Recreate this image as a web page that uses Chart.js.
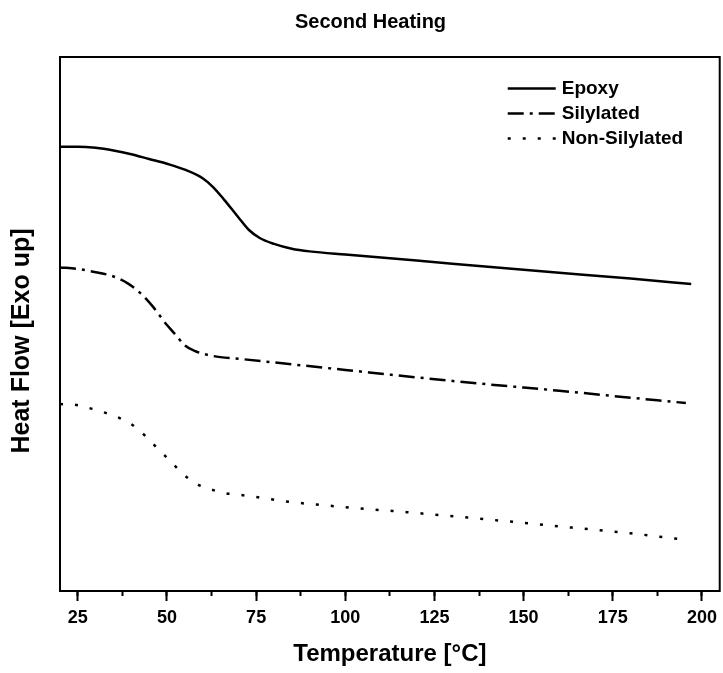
<!DOCTYPE html>
<html>
<head>
<meta charset="utf-8">
<title>Second Heating</title>
<script src="https://cdn.jsdelivr.net/npm/chart.js@4.4.1/dist/chart.umd.min.js"></script>
<style>
    html, body { margin: 0; padding: 0; background: #fff; }
    #dsc-chart { display: block; }
</style>
</head>
<body>
<canvas id="dsc-chart" width="723" height="673"></canvas>
<script>
// ---- DSC second heating curves (heat flow in arbitrary units) ----
const epoxyTemp = [20, 25, 30, 35, 40, 45, 50, 55, 60, 63, 66, 70, 73, 76, 80, 85, 90, 100, 120, 140, 160, 180, 197];
const epoxyFlow = [83.2, 83.2, 83.0, 82.5, 81.8, 80.9, 80.0, 78.9, 77.3, 75.6, 73.3, 70.0, 67.6, 66.1, 65.0, 64.1, 63.6, 63.0, 61.9, 60.7, 59.6, 58.5, 57.5];

const silylatedTemp = [20, 25, 30, 35, 39, 43, 46, 50, 52, 55, 58, 63, 70, 80, 100, 120, 140, 160, 180, 195.5];
const silylatedFlow = [60.6, 60.3, 59.7, 58.9, 57.6, 55.5, 53.3, 49.8, 48.3, 46.0, 44.9, 44.0, 43.5, 42.8, 41.4, 40.0, 38.7, 37.5, 36.2, 35.2];

const nonSilylatedTemp = [20, 25, 29, 33, 37, 40.5, 44, 47.5, 51, 54.5, 58.5, 62.5, 66.5, 70.5, 75, 83, 95, 120, 140, 160, 180, 194];
const nonSilylatedFlow = [35.0, 34.8, 34.1, 33.3, 32.3, 31.0, 29.0, 26.6, 24.3, 21.9, 20.0, 19.0, 18.3, 18.0, 17.6, 16.8, 16.0, 14.6, 13.4, 12.1, 10.8, 9.7];

const seriesLabels = ['Epoxy', 'Silylated', 'Non-Silylated'];
const tempTicks = [25, 50, 75, 100, 125, 150, 175, 200];

const FONT = '"Liberation Sans", Arial, sans-serif';

function toPoints(xs, ys) {
    return xs.map((x, i) => ({ x: x, y: ys[i] }));
}

// ---- Plot frame, inner legend and free-standing labels ----
const framePlugin = {
    id: 'frame',
    afterDraw(chart) {
        const { ctx, chartArea: a } = chart;
        ctx.save();
        ctx.strokeStyle = '#000';
        ctx.lineWidth = 2;
        ctx.strokeRect(a.left, a.top, a.right - a.left, a.bottom - a.top);
        ctx.restore();
    }
};

const legendPlugin = {
    id: 'insideLegend',
    afterDatasetsDraw(chart) {
        const { ctx, chartArea: a } = chart;
        ctx.save();
        ctx.font = 'bold 19px ' + FONT;
        ctx.textBaseline = 'middle';
        ctx.fillStyle = '#000';
        chart.data.datasets.forEach((ds, i) => {
            const y = a.top + 31.5 + i * 25;
            ctx.strokeStyle = ds.borderColor;
            ctx.lineWidth = ds.borderWidth;
            ctx.setLineDash(ds.borderDash || []);
            ctx.beginPath();
            ctx.moveTo(a.right - 212, y);
            ctx.lineTo(a.right - 164, y);
            ctx.stroke();
            ctx.setLineDash([]);
            ctx.fillText(ds.label, a.right - 158, y);
        });
        ctx.restore();
    }
};

const labelPlugin = {
    id: 'freeLabels',
    afterDraw(chart) {
        const { ctx, chartArea: a } = chart;
        ctx.save();
        ctx.fillStyle = '#000';
        ctx.textAlign = 'center';
        // chart title
        ctx.font = 'bold 20px ' + FONT;
        ctx.textBaseline = 'alphabetic';
        ctx.fillText('Second Heating', 370.5, 28);
        // y axis title, sits a little below the middle of the frame
        ctx.font = 'bold 25px ' + FONT;
        ctx.textBaseline = 'middle';
        ctx.translate(22, (a.top + a.bottom) / 2 + 17);
        ctx.rotate(-Math.PI / 2);
        ctx.fillText('Heat Flow [Exo up]', 0, 0);
        ctx.restore();
    }
};

new Chart(document.getElementById('dsc-chart'), {
    type: 'line',
    data: {
        datasets: [
            {
                label: seriesLabels[0],
                data: toPoints(epoxyTemp, epoxyFlow),
                borderColor: '#000',
                borderWidth: 2.5,
                borderDash: []
            },
            {
                label: seriesLabels[1],
                data: toPoints(silylatedTemp, silylatedFlow),
                borderColor: '#000',
                borderWidth: 2.5,
                borderDash: [16, 6, 3, 6]
            },
            {
                label: seriesLabels[2],
                data: toPoints(nonSilylatedTemp, nonSilylatedFlow),
                borderColor: '#000',
                borderWidth: 2.5,
                borderDash: [3, 12]
            }
        ]
    },
    options: {
        responsive: false,
        animation: false,
        events: [],
        layout: { padding: { top: 57, right: 2, left: 0, bottom: 0 } },
        elements: {
            point: { radius: 0 },
            line: { cubicInterpolationMode: 'monotone', fill: false }
        },
        plugins: {
            legend: { display: false },
            tooltip: { enabled: false },
            title: { display: false }
        },
        scales: {
            // minor ticks only, sits on the bottom edge of the frame
            xMinor: {
                type: 'linear',
                position: 'bottom',
                weight: 0,
                min: 20,
                max: 205,
                grid: { drawOnChartArea: false, drawTicks: true, tickLength: 5, tickWidth: 2, tickColor: '#000' },
                border: { display: false },
                ticks: { display: false, stepSize: 12.5, includeBounds: false },
                afterFit(scale) { scale.height = 0; }
            },
            x: {
                type: 'linear',
                position: 'bottom',
                weight: 1,
                min: 20,
                max: 205,
                afterBuildTicks(scale) {
                    scale.ticks = tempTicks.map(v => ({ value: v }));
                },
                grid: { drawOnChartArea: false, drawTicks: true, tickLength: 10, tickWidth: 2, tickColor: '#000' },
                border: { display: false },
                ticks: {
                    color: '#000',
                    padding: 6,
                    maxRotation: 0,
                    font: { family: FONT, size: 18, weight: 'bold' }
                },
                title: {
                    display: true,
                    text: 'Temperature [°C]',
                    color: '#000',
                    padding: { top: 0, bottom: 4 },
                    font: { family: FONT, size: 24, weight: 'bold' }
                },
                afterFit(scale) { scale.height = 82; }
            },
            y: {
                type: 'linear',
                position: 'left',
                min: 0,
                max: 100,
                grid: { display: false },
                border: { display: false },
                ticks: { display: false },
                afterFit(scale) { scale.width = 60; }
            }
        }
    },
    plugins: [framePlugin, legendPlugin, labelPlugin]
});
</script>
</body>
</html>
